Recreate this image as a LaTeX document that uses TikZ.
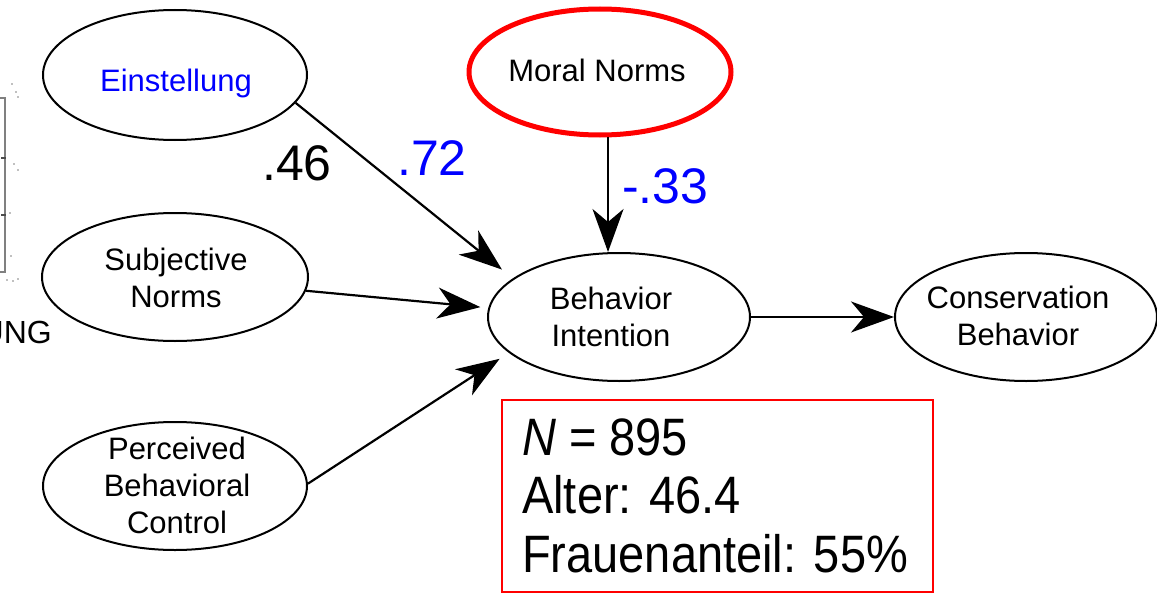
\documentclass[tikz,border=0pt]{standalone}
\usepackage{fontspec}
\setmainfont{Liberation Sans}
\usetikzlibrary{arrows.meta,shapes.geometric}
\begin{document}
\begin{tikzpicture}[x=1pt,y=-1pt,
  ell/.style={draw, line width=2pt, ellipse, inner sep=0pt},
  lbl/.style={align=center, font=\fontsize{31}{37}\selectfont, inner sep=0pt},
  coef/.style={font=\fontsize{50}{60}\selectfont, inner sep=0pt, anchor=base west},
  boxtxt/.style={font=\fontsize{47}{58}\selectfont, inner sep=0pt, anchor=base west},
  arr/.style={line width=2.2pt, -{Stealth[length=43pt,width=31pt,inset=13pt]}},
]
\clip (0,0) rectangle (1157,594);
\fill[white] (0,0) rectangle (1157,594);
% left remnant
\draw[gray, line width=2.5pt] (-3,98) rectangle (5,272);
\draw[gray!60!black, line width=1.5pt] (1,158) -- (6,158) (1,215) -- (6,215);
\foreach \p in {(12,84),(16,92),(18,97),(14,164),(18,170),(10,213),(11,256),(13,281),(18,279),(7,280)}
  \fill[gray] \p circle (0.8);
\node[anchor=base east, font=\fontsize{32}{38}\selectfont, inner sep=0pt] (ung) at (52,343) {UNG};
% ellipses
\node[ell, minimum width=264pt, minimum height=130pt] (ein) at (175,75) {};
\node[lbl, text=blue] (ein-t) at (176,83) {Einstellung};
\node[ell, minimum width=266pt, minimum height=128pt] (sn) at (175,277) {};
\node[lbl] (sn-t) at (176,278) {Subjective\\Norms};
\node[ell, minimum width=264pt, minimum height=128pt] (pbc) at (175,486) {};
\node[lbl] (pbc-t) at (177,485) {Perceived\\Behavioral\\Control};
\node[ell, draw=red, line width=5pt, minimum width=262pt, minimum height=126pt] (mn) at (600,72) {};
\node[lbl] (mn-t) at (597,70) {Moral Norms};
\node[ell, minimum width=262pt, minimum height=128pt] (bi) at (619,317) {};
\node[lbl] (bi-t) at (611,317) {Behavior\\Intention};
\node[ell, minimum width=262pt, minimum height=128pt] (cb) at (1026,317) {};
\node[lbl] (cb-t) at (1018,316) {Conservation\\Behavior};
% coefficients
\node[coef] (c46) at (262,180) {.46};
\node[coef, text=blue] (c72) at (397,175) {.72};
\node[coef, text=blue] (c33) at (622,203) {-.33};
% arrows
\draw[arr, shorten >=14pt] (ein.-13) -- (bi.160);
\draw[arr, shorten >=8pt] (sn.-6) -- (bi.176);
\draw[arr, shorten >=11pt] (pbc.1) -- (bi.198);
\draw[arr] (mn.-83) -- (mn.-83 |- bi.north);
\draw[arr] (bi.east) -- (cb.west);
% info box
\node[draw=red, line width=1.5pt, minimum width=431pt, minimum height=192pt, inner sep=0pt] (box) at (717.5,496) {};
\node[boxtxt] (n1) at (522,455) {\scalebox{1}[1.12]{\textit{N} = 895}};
\node[boxtxt] (n2) at (522,513) {\scalebox{1}[1.12]{Alter: 46.4}};
\node[boxtxt] (n3) at (522,572) {\scalebox{1}[1.12]{Frauenanteil: 55\%}};
\end{tikzpicture}
\end{document}
